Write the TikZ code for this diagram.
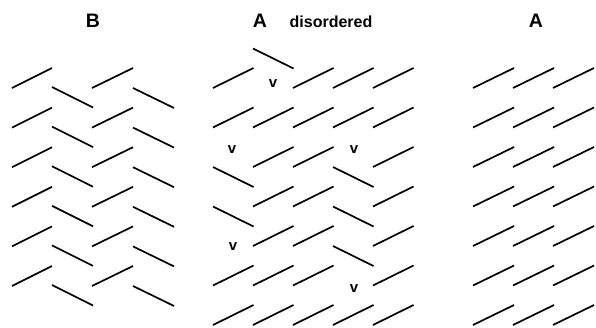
\documentclass[tikz,border=0pt]{standalone}
\usepackage{fontspec}
\setmainfont{Liberation Sans}
\begin{document}
\begin{tikzpicture}[x=1pt,y=-1pt,
  mol/.style={line width=1.7pt,line cap=butt},
  big/.style={font=\fontsize{19.5}{20}\selectfont\bfseries,inner sep=0pt,anchor=base},
  small/.style={font=\fontsize{16}{17}\selectfont\bfseries,inner sep=0pt,anchor=base},
  vac/.style={font=\fontsize{15}{16}\selectfont\bfseries,inner sep=0pt}]
\useasboundingbox (0,0) rectangle (596,327);
% labels
\node[big] (labB) at (93,27.7) {B};
\node[big] (labA1) at (260,27) {A};
\node[small] (labdis) at (331,27) {disordered};
\node[big] (labA2) at (536,27) {A};
% panel B
\foreach \r in {0,...,5}{
  \pgfmathsetmacro{\yy}{88+39.6*\r}
  \draw[mol] (12,\yy) -- ++(40,-20);
  \draw[mol] (52,\yy-1) -- ++(41,20.5);
  \draw[mol] (92,\yy) -- ++(41,-20);
  \draw[mol] (133,\yy) -- ++(41,20);
}
% panel A right
\foreach \r in {0,...,6}{
  \pgfmathsetmacro{\yy}{88+39.5*\r}
  \foreach \c in {473,513,553}{
    \draw[mol] (\c,\yy) -- ++(41,-20);
  }
}
% panel A disordered: up molecules (column x, row index)
\foreach \c/\r in {213/0,293/0,333/0,373/0,
  213/1,253/1,293/1,333/1,373/1,
  253/2,293/2,373/2,
  253/3,293/3,373/3,
  253/4,293/4,373/4,
  213/5,253/5,293/5,373/5,
  213/6,253/6,293/6,333/6,373/6}{
  \pgfmathsetmacro{\yy}{88+39.5*\r}
  \draw[mol] (\c,\yy) -- ++(40.5,-20);
}
% flipped molecules
\foreach \c/\r in {253/-1,213/2,333/2,213/3,333/3,333/4}{
  \pgfmathsetmacro{\yy}{88+39.5*\r}
  \draw[mol] (\c,\yy) -- ++(40.5,20);
}
% vacancies
\node[vac] (v1) at (273,83.5) {v};
\node[vac] (v2) at (232,149.5) {v};
\node[vac] (v3) at (354,149.5) {v};
\node[vac] (v4) at (233,246.5) {v};
\node[vac] (v5) at (354,289) {v};
\end{tikzpicture}
\end{document}
